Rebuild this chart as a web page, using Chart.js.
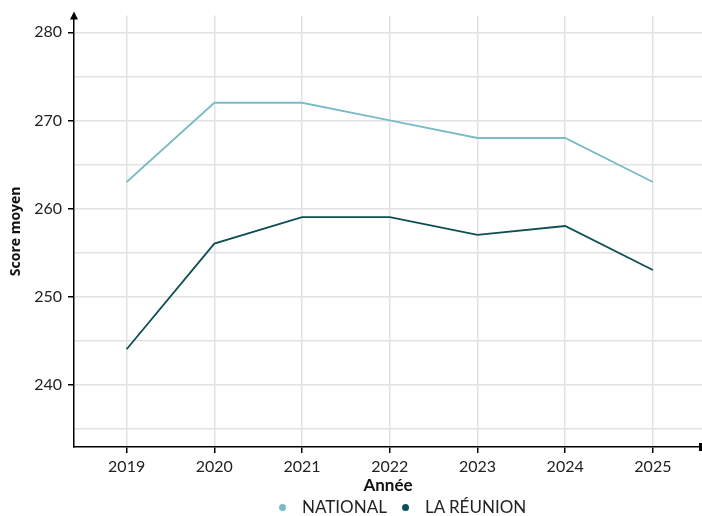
<!DOCTYPE html>
<html lang="fr">
<head>
<meta charset="UTF-8">
<title>Score moyen</title>
<style>
  body { margin: 0; background: #fff; }
  #wrap { position: relative; width: 702px; height: 516px; }
  #legend { position: absolute; left: 279px; top: 497px; display: flex; align-items: center;
            font-family: Lato, sans-serif; font-size: 17px; color: #222; line-height: 20px; }
  #legend .dot { width: 7px; height: 7px; border-radius: 50%; display: inline-block; margin-right: 16px; }
  #legend .item { display: flex; align-items: center; margin-right: 15px; }
</style>
</head>
<body>
<div id="wrap">
  <canvas id="chart" width="702" height="516"></canvas>
  <div id="legend"></div>
</div>
<script src="https://cdn.jsdelivr.net/npm/chart.js"></script>
<script>
const years = [2019, 2020, 2021, 2022, 2023, 2024, 2025];
const national = [263, 272, 272, 270, 268, 268, 263];
const reunion = [244, 256, 259, 259, 257, 258, 253];
const yTicks = [240, 250, 260, 270, 280];

const tickFont = { family: 'Lato', size: 16 };

// arrows at the end of the axes
const arrows = {
  id: 'arrows',
  afterDraw(chart) {
    const { ctx, chartArea } = chart;
    ctx.save();
    ctx.fillStyle = '#000';
    ctx.beginPath();
    ctx.moveTo(chartArea.left, chartArea.top - 4);
    ctx.lineTo(chartArea.left - 4, chartArea.top + 4);
    ctx.lineTo(chartArea.left + 4, chartArea.top + 4);
    ctx.fill();
    ctx.fillRect(chartArea.right - 3, chartArea.bottom - 4, 3, 8);
    ctx.restore();
  }
};

const chart = new Chart(document.getElementById('chart'), {
  type: 'line',
  data: {
    datasets: [{
      label: 'NATIONAL',
      data: years.map((y, i) => ({ x: y, y: national[i] })),
      borderColor: '#7bbbc6',
      backgroundColor: '#7bbbc6',
      borderWidth: 1.8,
      pointRadius: 0
    }, {
      label: 'LA RÉUNION',
      data: years.map((y, i) => ({ x: y, y: reunion[i] })),
      borderColor: '#0d4f55',
      backgroundColor: '#0d4f55',
      borderWidth: 1.8,
      pointRadius: 0
    }]
  },
  options: {
    responsive: false,
    animation: false,
    layout: { padding: { top: 13, right: 0, left: 0, bottom: 20 } },
    plugins: {
      legend: { display: false },
      tooltip: { enabled: false }
    },
    scales: {
      x: {
        type: 'linear',
        min: 2018.4,
        max: 2025.56,
        afterBuildTicks: s => { s.ticks = years.map(v => ({ value: v })); },
        afterFit: s => { s.height = 49; },
        ticks: { color: '#222', font: tickFont, padding: 4, callback: v => String(v), includeBounds: false, maxRotation: 0 },
        grid: { color: '#e2e2e2', lineWidth: 1.5, tickColor: '#000', tickLength: 6 },
        border: { color: '#000', width: 1.5 },
        title: { display: true, text: 'Année', color: '#111', font: { family: 'Lato', size: 17, weight: 'bold' }, padding: 0 }
      },
      y: {
        min: 232.9,
        max: 281.9,
        afterBuildTicks: s => {
          const t = [];
          for (let v = 235; v <= 280; v += 5) t.push({ value: v });
          s.ticks = t;
        },
        afterFit: s => { s.width = 74; },
        ticks: {
          color: '#222',
          font: tickFont,
          padding: 6,
          callback: v => (yTicks.includes(v) ? String(v) : '')
        },
        grid: {
          color: '#e2e2e2',
          lineWidth: 1.5,
          tickLength: 6,
          tickColor: c => (c.tick && yTicks.includes(c.tick.value) ? '#000' : 'rgba(0,0,0,0)')
        },
        border: { color: '#000', width: 1.5 },
        title: { display: true, text: 'Score moyen', color: '#111', font: { family: 'Open Sans', size: 14, weight: 'bold' }, padding: { top: 8, bottom: 0 } }
      }
    }
  },
  plugins: [arrows]
});

// legend below the axis title
const legend = document.getElementById('legend');
chart.data.datasets.forEach(ds => {
  const item = document.createElement('span');
  item.className = 'item';
  const dot = document.createElement('span');
  dot.className = 'dot';
  dot.style.background = ds.borderColor;
  item.appendChild(dot);
  item.appendChild(document.createTextNode(ds.label));
  legend.appendChild(item);
});
</script>
</body>
</html>
